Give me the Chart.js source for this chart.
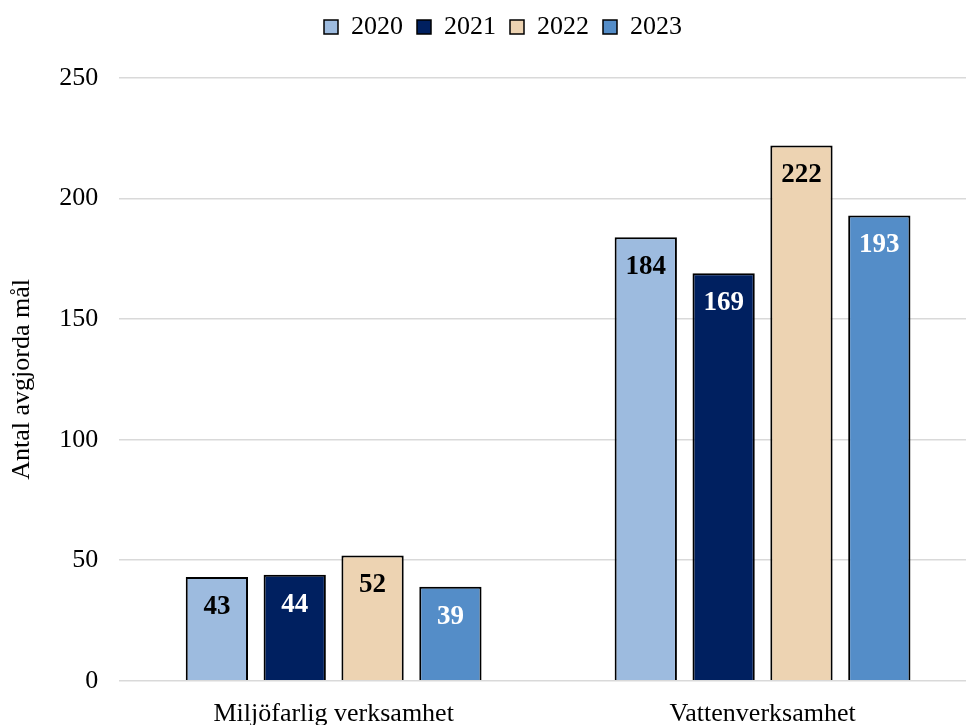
<!DOCTYPE html>
<html>
<head>
<meta charset="utf-8">
<script src="https://cdn.jsdelivr.net/npm/chart.js@4"></script>
<style>
  html, body { margin: 0; padding: 0; background: #fff; overflow: hidden; }
  #wrap { width: 1000px; height: 725px; }
</style>
</head>
<body>
<div id="wrap"><canvas id="chart"></canvas></div>
<script>
// ==================== Data ====================
const categories = ["Miljöfarlig verksamhet", "Vattenverksamhet"];
const years = ["2020", "2021", "2022", "2023"];
const values2020 = [43, 184];
const values2021 = [44, 169];
const values2022 = [52, 222];
const values2023 = [39, 193];
const yTicks = [0, 50, 100, 150, 200, 250];

const seriesValues = [values2020, values2021, values2022, values2023];
const barColors = ["#9dbbdf", "#002060", "#edd3b2", "#548dc8"];
const labelColors = ["#000", "#fff", "#000", "#fff"];
const serif = "'Liberation Serif', 'Times New Roman', serif";

// draws the value inside the top of each bar
const valueLabels = {
    id: "valueLabels",
    afterDatasetsDraw(chart) {
        const ctx = chart.ctx;
        ctx.save();
        ctx.font = "bold 27px " + serif;
        ctx.textAlign = "center";
        ctx.textBaseline = "middle";
        chart.data.datasets.forEach((ds, i) => {
            chart.getDatasetMeta(i).data.forEach((bar, j) => {
                ctx.fillStyle = labelColors[i];
                ctx.fillText(ds.data[j], bar.x, bar.y + 30);
            });
        });
        ctx.restore();
    }
};

// more room under the legend, and centre it on the whole picture
const legendSpace = {
    id: "legendSpace",
    beforeInit(chart) {
        const fit = chart.legend.fit;
        chart.legend.fit = function () {
            fit.call(this);
            this.height += 28;
        };
    },
    afterLayout(chart) {
        chart.legend.left += 12;
        chart.legend.right += 12;
    }
};

new Chart(document.getElementById("chart"), {
    type: "bar",
    data: {
        labels: categories,
        datasets: years.map((y, i) => ({
            label: y,
            data: seriesValues[i],
            backgroundColor: barColors[i],
            borderColor: "#000",
            borderWidth: 2,
            categoryPercentage: 0.726,
            barPercentage: 0.8
        }))
    },
    options: {
        responsive: true,
        maintainAspectRatio: false,
        animation: false,
        layout: { padding: { left: 5, right: 23, top: 0, bottom: -23 } },
        plugins: {
            tooltip: { enabled: false },
            legend: {
                position: "top",
                labels: {
                    color: "#000",
                    font: { family: serif, size: 26 },
                    boxWidth: 14,
                    boxHeight: 14,
                    padding: 14,
                    useBorderRadius: false,
                    generateLabels(chart) {
                        return chart.data.datasets.map((ds, i) => ({
                            text: ds.label,
                            fillStyle: barColors[i],
                            strokeStyle: "#000",
                            lineWidth: 1.5,
                            fontColor: "#000",
                            datasetIndex: i
                        }));
                    }
                }
            }
        },
        scales: {
            x: {
                grid: { display: false, drawTicks: false },
                border: { display: false },
                ticks: { color: "#000", font: { family: serif, size: 26 }, padding: 18 }
            },
            y: {
                min: 0,
                max: 250,
                afterBuildTicks(axis) { axis.ticks = yTicks.map(v => ({ value: v })); },
                grid: { color: "#d9d9d9", lineWidth: 1.5, drawTicks: false },
                border: { display: false },
                ticks: { color: "#000", font: { family: serif, size: 26 }, padding: 21 },
                title: {
                    display: true,
                    text: "Antal avgjorda mål",
                    color: "#000",
                    font: { family: serif, size: 26 },
                    padding: { top: 2, bottom: 0 }
                }
            }
        }
    },
    plugins: [valueLabels, legendSpace]
});
</script>
</body>
</html>
